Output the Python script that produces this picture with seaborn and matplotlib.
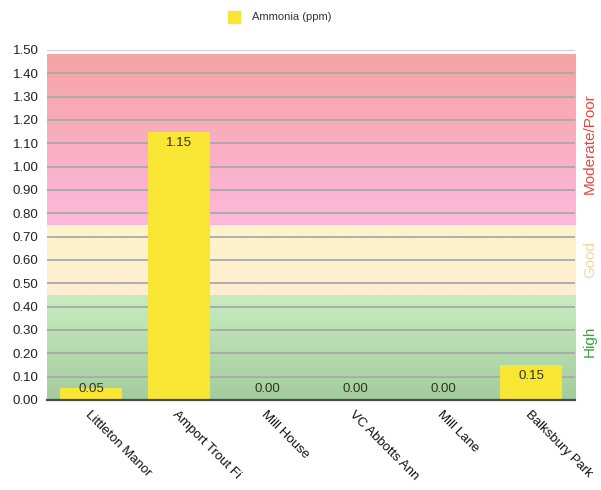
import numpy as np
import pandas as pd
import matplotlib
matplotlib.use("Agg")
import matplotlib.pyplot as plt
from matplotlib.colors import LinearSegmentedColormap
import seaborn as sns

# Monitoring sites and measured ammonia
sites = ["Littleton Manor", "Amport Trout Fi", "Mill House",
         "VC Abbotts Ann", "Mill Lane", "Balksbury Park"]
ammonia = [0.05, 1.15, 0.00, 0.00, 0.00, 0.15]
value_labels = ["0.05", "1.15", "0.00", "0.00", "0.00", "0.15"]

# Water quality bands: (name, lower, upper, top colour, bottom colour, label colour, label y)
band_names = ["High", "Good", "Moderate/Poor"]
band_lower = [0.00, 0.45, 0.75]
band_upper = [0.45, 0.75, 1.48]
band_top_colours = ["#c8ecc0", "#fdf4c9", "#f6a3a3"]
band_bottom_colours = ["#a3cc9d", "#fdedd2", "#fdb8dc"]
band_text_colours = ["#3aa53a", "#fcd49b", "#e8453c"]
band_label_y = [0.25, 0.60, 1.10]

y_ticks = [round(0.1 * i, 2) for i in range(16)]

sns.set_style("white")
plt.rcParams["font.family"] = ["Liberation Sans", "DejaVu Sans"]

fig = plt.figure(figsize=(6.01, 4.90), dpi=100)
ax = fig.add_axes([0.078, 0.1837, 0.879, 0.7143])

df = pd.DataFrame({"site": sites, "ammonia": ammonia})

n = len(sites)
# Gradient-filled quality bands
for lo, hi, ctop, cbot in zip(band_lower, band_upper, band_top_colours, band_bottom_colours):
    cmap = LinearSegmentedColormap.from_list("band", [cbot, ctop])
    grad = np.linspace(0, 1, 256).reshape(-1, 1)
    ax.imshow(grad, cmap=cmap, origin="lower", aspect="auto",
              extent=(-0.5, n - 0.5, lo, hi), zorder=0.5)

# Horizontal gridlines
for t in y_ticks:
    ax.axhline(t, color="#a9a9a9" if t < 1.5 else "#c8c8c8", lw=1.3, zorder=1)

sns.barplot(data=df, x="site", y="ammonia", color="#f9e534", width=0.7,
            saturation=1, linewidth=0, edgecolor="none", ax=ax, zorder=2)

ax.set_xlim(-0.5, n - 0.5)
ax.set_ylim(0, 1.5)
ax.set_yticks(y_ticks)
ax.set_yticklabels([f"{t:.2f}" for t in y_ticks], fontsize=9.5, color="#222222")
ax.set_xlabel("")
ax.set_ylabel("")
ax.tick_params(axis="both", length=0, pad=6)
ax.set_xticks(range(n))
ax.set_xticklabels(sites, rotation=-45, ha="left", va="top",
                   rotation_mode="anchor", fontsize=9.5, color="#111111")

for s in ["top", "right", "left"]:
    ax.spines[s].set_visible(False)
ax.spines["bottom"].set_color("#4a4a4a")
ax.spines["bottom"].set_linewidth(1.6)
ax.spines["bottom"].set_zorder(3)

# Value labels on the bars
for i, (v, lab) in enumerate(zip(ammonia, value_labels)):
    y = max(v - 0.047, 0.045)
    ax.text(i, y, lab, ha="center", va="center", fontsize=9.5,
            color="#33331f", zorder=4)

# Band names on the right-hand side
for name, yy, col in zip(band_names, band_label_y, band_text_colours):
    ax.text(1.028, yy, name, transform=ax.get_yaxis_transform(),
            rotation=90, ha="center", va="center", fontsize=11, color=col)

# Legend
fig.patches.append(plt.Rectangle((228 / 601, 1 - 23 / 490), 12 / 601, 12 / 490,
                                 transform=fig.transFigure, color="#f9e534"))
fig.text(252 / 601, 1 - 17 / 490, "Ammonia (ppm)", fontsize=8,
         va="center", ha="left", color="#333333")

fig.savefig("out.png", dpi=100)
